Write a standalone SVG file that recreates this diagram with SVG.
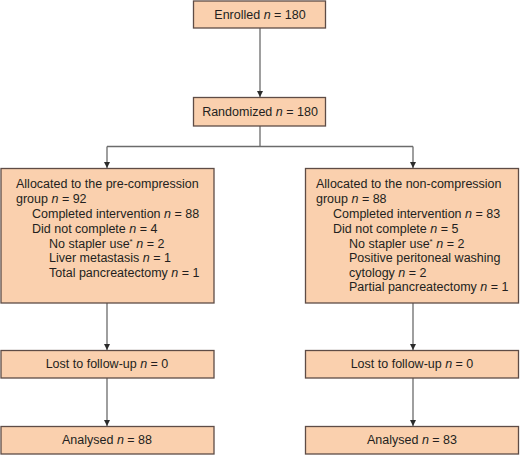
<svg xmlns="http://www.w3.org/2000/svg" width="520" height="455" viewBox="0 0 520 455">
<style>
.box{fill:#fad0ae;stroke:#5e4c46;stroke-width:1.3}
.t{font-family:"Liberation Sans",Arial,sans-serif;font-size:12.5px;fill:#231f20}
.c{text-anchor:middle}
.conn{fill:none;stroke:#6b6b6b;stroke-width:1.3}
</style>
<defs>
<marker id="ah" viewBox="0 0 10 10" refX="10" refY="5" markerWidth="6" markerHeight="6" markerUnits="userSpaceOnUse" orient="auto">
<path d="M0,0 L10,5 L0,10 z" fill="#2b2b2b"/>
</marker>
</defs>
<rect width="520" height="455" fill="#ffffff"/>
<g id="connectors">
<path class="conn" d="M260,28 V97" marker-end="url(#ah)"/>
<path class="conn" d="M260,126 V146.5"/>
<path class="conn" d="M107,146.5 H413"/>
<path class="conn" d="M107,146.5 V168" marker-end="url(#ah)"/>
<path class="conn" d="M413,146.5 V168" marker-end="url(#ah)"/>
<path class="conn" d="M107,303 V350" marker-end="url(#ah)"/>
<path class="conn" d="M413,303 V350" marker-end="url(#ah)"/>
<path class="conn" d="M107,378 V426" marker-end="url(#ah)"/>
<path class="conn" d="M413,378 V426" marker-end="url(#ah)"/>
</g>
<g id="enrolled">
<rect class="box" x="193.5" y="1" width="132" height="27"/>
<text class="t c" x="260" y="19">Enrolled <tspan font-style="italic">n</tspan> = 180</text>
</g>
<g id="randomized">
<rect class="box" x="193.5" y="97.5" width="132" height="28.5"/>
<text class="t c" x="260" y="116">Randomized <tspan font-style="italic">n</tspan> = 180</text>
</g>
<g id="alloc-pre">
<rect class="box" x="1" y="168.5" width="213" height="134.5"/>
<text class="t" x="16" y="187.5">Allocated to the pre-compression</text>
<text class="t" x="16" y="202.5">group <tspan font-style="italic">n</tspan> = 92</text>
<text class="t" x="32" y="217.5">Completed intervention <tspan font-style="italic">n</tspan> = 88</text>
<text class="t" x="32" y="232.5">Did not complete <tspan font-style="italic">n</tspan> = 4</text>
<text class="t" x="49" y="247.5">No stapler use<tspan font-size="8" dy="-4">*</tspan><tspan dy="4"> </tspan><tspan font-style="italic">n</tspan> = 2</text>
<text class="t" x="49" y="262">Liver metastasis <tspan font-style="italic">n</tspan> = 1</text>
<text class="t" x="49" y="277">Total pancreatectomy <tspan font-style="italic">n</tspan> = 1</text>
</g>
<g id="alloc-non">
<rect class="box" x="305.5" y="168.5" width="213" height="134.5"/>
<text class="t" x="316" y="187.5">Allocated to the non-compression</text>
<text class="t" x="316" y="202.5">group <tspan font-style="italic">n</tspan> = 88</text>
<text class="t" x="333" y="217.5">Completed intervention <tspan font-style="italic">n</tspan> = 83</text>
<text class="t" x="333" y="232.5">Did not complete <tspan font-style="italic">n</tspan> = 5</text>
<text class="t" x="349" y="247.5">No stapler use<tspan font-size="8" dy="-4">*</tspan><tspan dy="4"> </tspan><tspan font-style="italic">n</tspan> = 2</text>
<text class="t" x="349" y="262">Positive peritoneal washing</text>
<text class="t" x="349" y="276.5">cytology <tspan font-style="italic">n</tspan> = 2</text>
<text class="t" x="349" y="291">Partial pancreatectomy <tspan font-style="italic">n</tspan> = 1</text>
</g>
<g id="lost-pre">
<rect class="box" x="1" y="350.5" width="213" height="27.5"/>
<text class="t c" x="107" y="368">Lost to follow-up <tspan font-style="italic">n</tspan> = 0</text>
</g>
<g id="lost-non">
<rect class="box" x="305.5" y="350.5" width="213" height="27.5"/>
<text class="t c" x="412" y="368">Lost to follow-up <tspan font-style="italic">n</tspan> = 0</text>
</g>
<g id="analysed-pre">
<rect class="box" x="1" y="426.5" width="213" height="27.5"/>
<text class="t c" x="107" y="444">Analysed <tspan font-style="italic">n</tspan> = 88</text>
</g>
<g id="analysed-non">
<rect class="box" x="305.5" y="426.5" width="213" height="27.5"/>
<text class="t c" x="412" y="444">Analysed <tspan font-style="italic">n</tspan> = 83</text>
</g>
</svg>
